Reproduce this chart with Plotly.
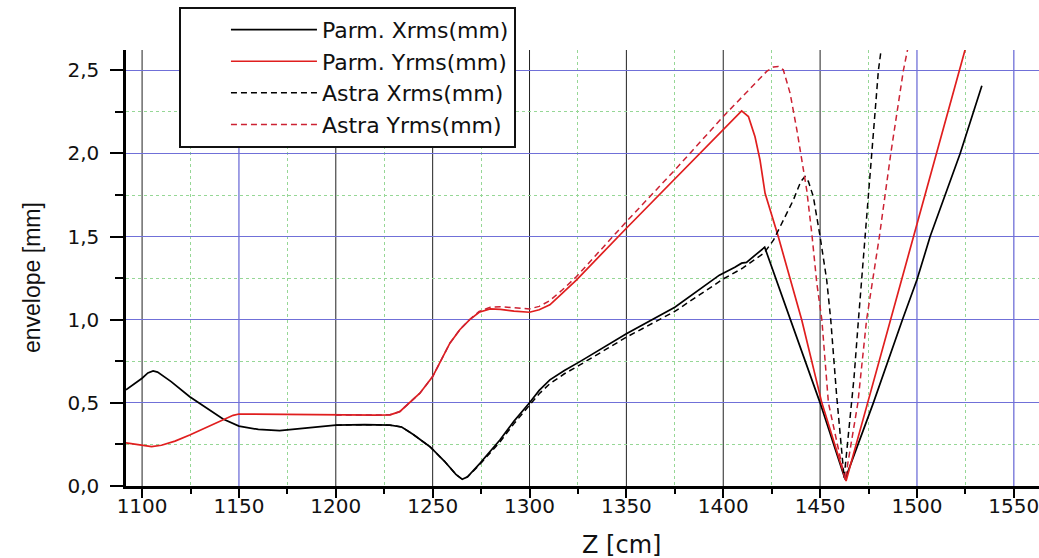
import plotly.graph_objects as go

# ---------------- data ----------------
parm_x_z = [1091.7, 1096, 1100, 1103, 1105.7, 1108, 1115, 1124.6, 1133, 1141.8, 1150, 1160, 1171,
            1185, 1200, 1215, 1228, 1234, 1240, 1248.6, 1256, 1262, 1265.3, 1268, 1274.4, 1284.7,
            1292, 1300, 1305, 1310.5, 1318, 1326, 1350, 1375, 1398, 1406, 1409.5, 1412, 1421.4,
            1435, 1450, 1462.9, 1477.5, 1492.5, 1500, 1506.8, 1522.3, 1533.5]
parm_x_v = [0.578, 0.615, 0.648, 0.680, 0.692, 0.685, 0.628, 0.537, 0.470, 0.403, 0.360, 0.340, 0.333,
            0.348, 0.366, 0.369, 0.366, 0.355, 0.310, 0.236, 0.150, 0.070, 0.040, 0.055, 0.136, 0.277,
            0.390, 0.501, 0.575, 0.638, 0.695, 0.748, 0.915, 1.075, 1.268, 1.315, 1.340, 1.345, 1.436,
            0.990, 0.500, 0.040, 0.500, 1.000, 1.240, 1.500, 2.000, 2.407]

parm_y_z = [1091.7, 1097, 1104.9, 1110, 1117, 1124.6, 1133, 1141.7, 1147, 1150, 1160, 1180, 1200,
            1220, 1228, 1233, 1243.4, 1250, 1258.9, 1264, 1269, 1274, 1279.7, 1285, 1292, 1300,
            1305, 1310.5, 1317, 1324.3, 1350, 1380, 1409.5, 1413, 1416.4, 1419, 1421.6,
            1428.4, 1434.5, 1440.5, 1450.9, 1463.4, 1474.9, 1486.1, 1500, 1525]
parm_y_v = [0.260, 0.250, 0.237, 0.245, 0.270, 0.307, 0.350, 0.397, 0.425, 0.433, 0.432, 0.428, 0.426,
            0.426, 0.428, 0.447, 0.558, 0.658, 0.859, 0.940, 0.999, 1.045, 1.065, 1.062, 1.052, 1.045,
            1.060, 1.090, 1.160, 1.240, 1.550, 1.904, 2.256, 2.222, 2.100, 1.960, 1.760,
            1.500, 1.240, 1.000, 0.500, 0.030, 0.515, 0.987, 1.560, 2.630]

astra_x_z = [1200, 1215, 1228, 1234, 1240, 1248.6, 1256, 1262, 1265.3, 1268, 1274.4, 1284.7, 1292,
             1300, 1305, 1310.5, 1318, 1326, 1350, 1375, 1400, 1410, 1421, 1426, 1436.2, 1440,
             1442.2, 1444, 1446.5, 1450, 1453.4, 1455.5, 1458.5, 1462.4, 1465, 1467.5, 1469.8,
             1473.2, 1476.7, 1480.1, 1481.8]
astra_x_v = [0.366, 0.369, 0.366, 0.355, 0.310, 0.236, 0.150, 0.070, 0.040, 0.055, 0.130, 0.265, 0.375,
             0.485, 0.555, 0.615, 0.675, 0.728, 0.895, 1.050, 1.245, 1.310, 1.400, 1.480, 1.720, 1.830,
             1.861, 1.830, 1.740, 1.500, 1.240, 1.000, 0.550, 0.050, 0.350, 0.650, 1.000,
             1.500, 2.000, 2.500, 2.650]

astra_y_z = [1200, 1220, 1228, 1233, 1243.4, 1250, 1258.9, 1264, 1269, 1274, 1279.7, 1285, 1292,
             1300, 1305, 1310.5, 1317, 1324.3, 1350, 1375, 1400, 1415, 1422.4, 1426, 1428.4, 1431,
             1434.5, 1438, 1440.5, 1443.1, 1445.7, 1448.3, 1450.9, 1454.3, 1462.9, 1466, 1469.5,
             1474, 1480.6, 1486.5, 1493, 1495.6]
astra_y_v = [0.426, 0.426, 0.428, 0.447, 0.558, 0.658, 0.859, 0.940, 1.000, 1.050, 1.075, 1.078, 1.070,
             1.065, 1.080, 1.115, 1.180, 1.260, 1.590, 1.900, 2.222, 2.400, 2.493, 2.520, 2.523, 2.503,
             2.363, 2.142, 1.960, 1.780, 1.520, 1.220, 1.000, 0.500, 0.036, 0.260, 0.500,
             1.000, 1.500, 2.000, 2.500, 2.650]

series_names = ["Parm. Xrms(mm)", "Parm. Yrms(mm)", "Astra Xrms(mm)", "Astra Yrms(mm)"]

x_ticks = [1100, 1150, 1200, 1250, 1300, 1350, 1400, 1450, 1500, 1550]
x_black_grid = [1100, 1200, 1250, 1300, 1350, 1400, 1450]
x_blue_grid = [1150, 1500, 1550]
y_ticks = [0.0, 0.5, 1.0, 1.5, 2.0, 2.5]

X_RANGE = [1091.7, 1563.0]
Y_RANGE = [0.0, 2.622]

# ---------------- figure ----------------
BLUE = "rgb(112,112,216)"
GREEN = "rgb(150,215,150)"
TICKFONT = dict(family="DejaVu Sans", size=20, color="#111")

fig = go.Figure()
fig.add_trace(go.Scatter(x=parm_x_z, y=parm_x_v, name=series_names[0], mode="lines",
                         line=dict(color="#000000", width=1.7)))
fig.add_trace(go.Scatter(x=parm_y_z, y=parm_y_v, name=series_names[1], mode="lines",
                         line=dict(color="#e01e1e", width=1.7)))
fig.add_trace(go.Scatter(x=astra_x_z, y=astra_x_v, name=series_names[2], mode="lines",
                         line=dict(color="#000000", width=1.5, dash="6px,4px")))
fig.add_trace(go.Scatter(x=astra_y_z, y=astra_y_v, name=series_names[3], mode="lines",
                         line=dict(color="#cc2233", width=1.5, dash="6px,4px")))

# vertical major grid lines (two colours, as in the reference)
for v in x_black_grid:
    fig.add_shape(type="line", xref="x", yref="paper", x0=v, x1=v, y0=0, y1=1,
                  line=dict(color="#222", width=1), layer="between")
for v in x_blue_grid:
    fig.add_shape(type="line", xref="x", yref="paper", x0=v, x1=v, y0=0, y1=1,
                  line=dict(color=BLUE, width=1.3), layer="between")

fig.update_layout(
    width=1039, height=558,
    margin=dict(l=126, r=0, t=50, b=72, autoexpand=False),
    paper_bgcolor="white", plot_bgcolor="white",
    separators=", ",
    showlegend=True,
    legend=dict(x=0.058, y=1.099, xanchor="left", yanchor="top",
                bgcolor="white", bordercolor="#111", borderwidth=2,
                font=dict(family="DejaVu Sans", size=22, color="#111"),
                itemwidth=86, indentation=45, tracegroupgap=0),
    xaxis=dict(range=X_RANGE, tickmode="array", tickvals=x_ticks, tickformat="d",
               showgrid=False, zeroline=False,
               showline=True, linecolor="#000", linewidth=2.5,
               ticks="outside", ticklen=9, tickwidth=2, tickcolor="#000",
               ticklabelstandoff=-9, ticklabeloverflow="allow",
               tickfont=TICKFONT,
               minor=dict(tick0=1125, dtick=50, ticks="outside", ticklen=5, tickwidth=2,
                          tickcolor="#000", showgrid=True, gridcolor=GREEN, griddash="dot",
                          gridwidth=1)),
    yaxis=dict(range=Y_RANGE, tickmode="array", tickvals=y_ticks, tickformat=".1f",
               showgrid=True, gridcolor=BLUE, gridwidth=1, zeroline=False,
               showline=True, linecolor="#000", linewidth=2.5,
               ticks="outside", ticklen=13, tickwidth=2, tickcolor="#000",
               ticklabelstandoff=7,
               tickfont=TICKFONT,
               minor=dict(tick0=0.25, dtick=0.5, ticks="outside", ticklen=8, tickwidth=2,
                          tickcolor="#000", showgrid=True, gridcolor=GREEN, griddash="dot",
                          gridwidth=1)),
)

fig.add_annotation(text="envelope [mm]", xref="paper", yref="paper",
                   x=(32 - 126) / 913, y=(486 - 278) / 436, xanchor="center", yanchor="middle",
                   textangle=-90, showarrow=False,
                   font=dict(family="Liberation Sans", size=23, color="#111"))
fig.add_annotation(text="Z [cm]", xref="paper", yref="paper",
                   x=(621 - 126) / 913, y=-(545 - 486) / 436, xanchor="center", yanchor="middle",
                   showarrow=False, font=dict(family="DejaVu Sans", size=24, color="#111"))

fig.write_html("out.html")
